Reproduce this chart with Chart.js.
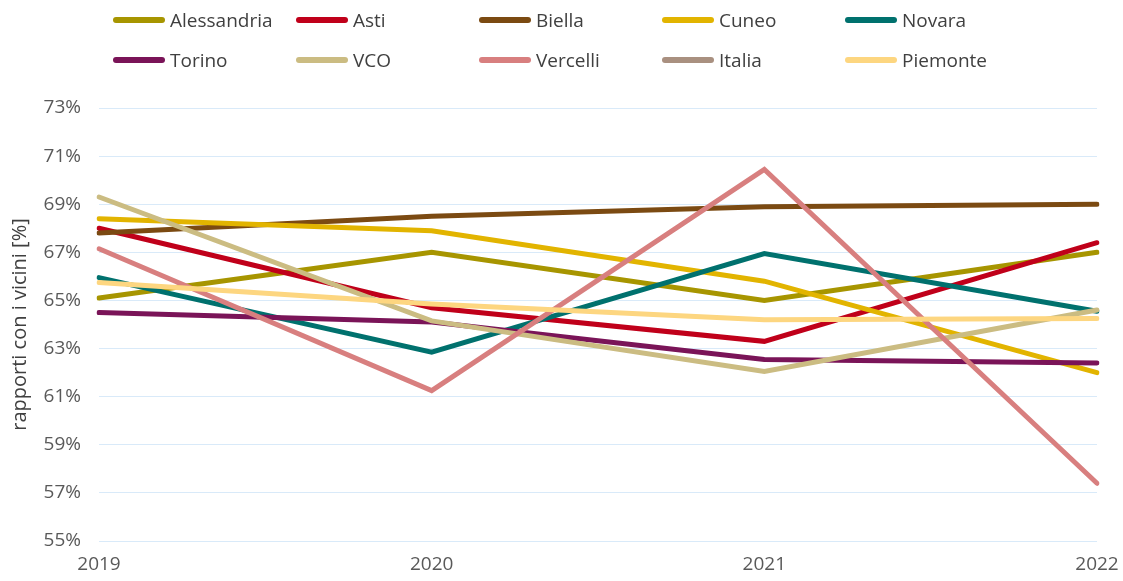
<!DOCTYPE html>
<html>
<head>
<meta charset="utf-8">
<script src="https://cdn.jsdelivr.net/npm/chart.js@4"></script>
<style>
  body { margin: 0; background: #fff; }
  #wrap { position: relative; width: 1123px; height: 581px; }
  #legend { position: absolute; left: 113px; top: 6px; width: 920px; display: grid;
            grid-template-columns: repeat(5, 183px); row-gap: 12px;
            font-family: "Open Sans", sans-serif; font-size: 19px; color: #404040; }
  #legend div { display: flex; align-items: center; height: 28px; }
  #legend span.sw { display: inline-block; width: 52px; height: 6px; border-radius: 3px; margin-right: 5px; }
</style>
</head>
<body>
<div id="wrap">
  <canvas id="myChart" width="1123" height="581"></canvas>
  <div id="legend"></div>
</div>
<script>
// dati
const years = ['2019', '2020', '2021', '2022'];
const yTicks = [55, 57, 59, 61, 63, 65, 67, 69, 71, 73];

const alessandria = [65.1, 67.0, 65.0, 67.0];
const asti = [68.0, 64.7, 63.3, 67.4];
const biella = [67.8, 68.5, 68.9, 69.0];
const cuneo = [68.4, 67.9, 65.8, 62.0];
const novara = [65.95, 62.85, 66.95, 64.55];
const torino = [64.5, 64.1, 62.55, 62.4];
const vco = [69.3, 64.15, 62.05, 64.6];
const vercelli = [67.15, 61.25, 70.45, 57.4];
const italia = [null, null, null, null];
const piemonte = [65.75, 64.85, 64.2, 64.25];

const series = [
    { label: 'Alessandria', data: alessandria, color: '#A79500' },
    { label: 'Asti', data: asti, color: '#C0001A' },
    { label: 'Biella', data: biella, color: '#7B4A12' },
    { label: 'Cuneo', data: cuneo, color: '#E2B400' },
    { label: 'Novara', data: novara, color: '#00716E' },
    { label: 'Torino', data: torino, color: '#7A1458' },
    { label: 'VCO', data: vco, color: '#CBBC82' },
    { label: 'Vercelli', data: vercelli, color: '#D87F7F' },
    { label: 'Italia', data: italia, color: '#A99080' },
    { label: 'Piemonte', data: piemonte, color: '#FDD680' }
];

// legenda html
const legend = document.getElementById('legend');
series.forEach(s => {
    const item = document.createElement('div');
    item.innerHTML = '<span class="sw" style="background:' + s.color + '"></span>' + s.label;
    legend.appendChild(item);
});

const ctx = document.getElementById('myChart');

new Chart(ctx, {
    type: 'line',
    data: {
        labels: years,
        datasets: series.map((s, i) => ({
            label: s.label,
            data: s.data,
            borderColor: s.color,
            backgroundColor: s.color,
            borderWidth: 5,
            pointRadius: 0,
            tension: 0,
            borderCapStyle: 'round',
            order: series.length - i // le ultime serie sopra
        }))
    },
    options: {
        responsive: false,
        animation: false,
        layout: { padding: { top: 108, right: 26, left: 0, bottom: 0 } },
        plugins: {
            legend: { display: false },
            tooltip: { enabled: false }
        },
        scales: {
            x: {
                offset: false,
                grid: { display: false },
                border: { display: false },
                ticks: { color: '#595959', font: { family: 'Open Sans', size: 19 }, padding: 4, maxRotation: 0 },
                afterFit: axis => { axis.height = 40; }
            },
            y: {
                min: 55,
                max: 73,
                afterBuildTicks: axis => { axis.ticks = yTicks.map(v => ({ value: v })); },
                grid: { color: '#D9EAF9', lineWidth: 1, drawTicks: false },
                border: { display: false },
                ticks: {
                    color: '#595959',
                    font: { family: 'Open Sans', size: 19 },
                    padding: 18,
                    callback: v => v + '%'
                },
                title: {
                    display: true,
                    text: 'rapporti con i vicini [%]',
                    color: '#404040',
                    font: { family: 'Open Sans', size: 20 },
                    padding: { top: 8, bottom: 0 }
                },
                afterFit: axis => { axis.width = 99; }
            }
        }
    }
});
</script>
</body>
</html>
